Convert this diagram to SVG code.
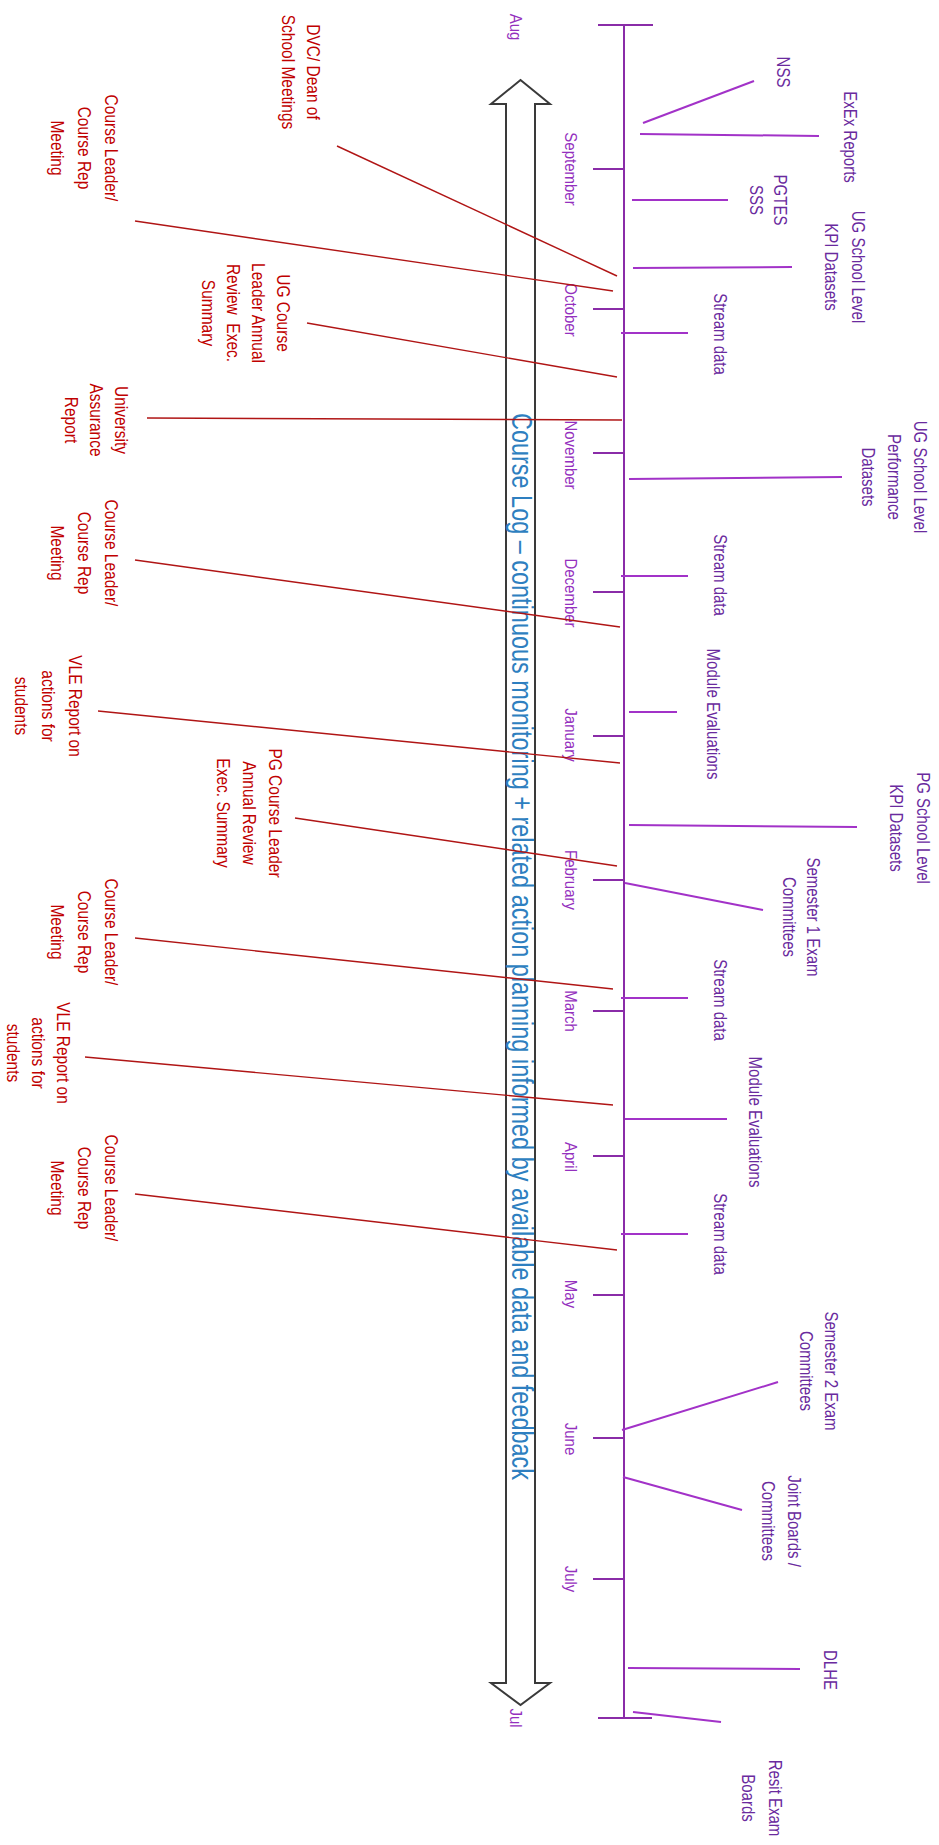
<svg xmlns="http://www.w3.org/2000/svg" width="939" height="1845" viewBox="0 0 939 1845">
<style>
 .red{font-family:"Liberation Sans",Arial,sans-serif;font-size:15.5px;fill:#C00000}
 .pur{font-family:"Liberation Sans",Arial,sans-serif;font-size:15px;fill:#6A2A9E}
 .mon{font-family:"Liberation Sans",Arial,sans-serif;font-size:15px;fill:#9430BE}
 .main{font-family:"Liberation Sans",Arial,sans-serif;font-size:24px;fill:#2E7FC0}
 .rl{stroke:#B01515;stroke-width:1.4;fill:none}
 .pl{stroke:#A232C8;stroke-width:2;fill:none}
 .ax{stroke:#8A2CA8;stroke-width:2;fill:none}
 .arrow{fill:#FFFFFF;stroke:#3A3A3A;stroke-width:2}
</style>
<rect width="939" height="1845" fill="#FFFFFF"/>

<g id="course-log-arrow">
 <path class="arrow" d="M520.5,80 L550,104 L535,104 L535,1683 L550,1683 L520.5,1705 L491,1683 L506,1683 L506,104 L491,104 Z"/>
 <text class="main" transform="translate(512,946.5) rotate(90) scale(1,1.2)" text-anchor="middle" textLength="1067" lengthAdjust="spacingAndGlyphs">Course Log – continuous monitoring + related action planning informed by available data and feedback</text>
</g>

<g id="timeline">
 <line class="ax" x1="624" y1="25" x2="624" y2="1718"/>
 <line class="ax" x1="598" y1="25" x2="653" y2="25"/>
 <line class="ax" x1="598" y1="1718" x2="652" y2="1718"/>
 <line class="ax" x1="593" y1="169" x2="624" y2="169"/>
 <line class="ax" x1="593" y1="309" x2="624" y2="309"/>
 <line class="ax" x1="593" y1="453" x2="624" y2="453"/>
 <line class="ax" x1="593" y1="592" x2="624" y2="592"/>
 <line class="ax" x1="593" y1="736" x2="624" y2="736"/>
 <line class="ax" x1="593" y1="880" x2="624" y2="880"/>
 <line class="ax" x1="593" y1="1011" x2="624" y2="1011"/>
 <line class="ax" x1="593" y1="1156" x2="624" y2="1156"/>
 <line class="ax" x1="593" y1="1295" x2="624" y2="1295"/>
 <line class="ax" x1="593" y1="1438" x2="624" y2="1438"/>
 <line class="ax" x1="593" y1="1579" x2="624" y2="1579"/>
</g>

<g id="months" class="mon" text-anchor="middle">
 <text transform="translate(510,27) rotate(90) scale(1,1.15)">Aug</text>
 <text transform="translate(565,169) rotate(90) scale(1,1.15)">September</text>
 <text transform="translate(565,310) rotate(90) scale(1,1.15)">October</text>
 <text transform="translate(565,455) rotate(90) scale(1,1.15)">November</text>
 <text transform="translate(565,593) rotate(90) scale(1,1.15)">December</text>
 <text transform="translate(565,735) rotate(90) scale(1,1.15)">January</text>
 <text transform="translate(565,880) rotate(90) scale(1,1.15)">February</text>
 <text transform="translate(565,1011) rotate(90) scale(1,1.15)">March</text>
 <text transform="translate(565,1157) rotate(90) scale(1,1.15)">April</text>
 <text transform="translate(565,1294) rotate(90) scale(1,1.15)">May</text>
 <text transform="translate(565,1439) rotate(90) scale(1,1.15)">June</text>
 <text transform="translate(565,1579) rotate(90) scale(1,1.15)">July</text>
 <text transform="translate(510,1718) rotate(90) scale(1,1.15)">Jul</text>
</g>

<g id="connectors">
 <line class="rl" x1="337" y1="146" x2="617" y2="276"/>
 <line class="rl" x1="135" y1="221" x2="613" y2="291"/>
 <line class="rl" x1="307" y1="323" x2="617" y2="377"/>
 <line class="rl" x1="147" y1="418" x2="622" y2="420"/>
 <line class="rl" x1="135" y1="560" x2="620" y2="627"/>
 <line class="rl" x1="98" y1="711" x2="620" y2="763"/>
 <line class="rl" x1="295" y1="818" x2="617" y2="866"/>
 <line class="rl" x1="135" y1="938" x2="613" y2="989"/>
 <line class="rl" x1="85" y1="1057" x2="613" y2="1105"/>
 <line class="rl" x1="135" y1="1194" x2="617" y2="1250"/>
 <line class="pl" x1="643" y1="123" x2="754" y2="81"/>
 <line class="pl" x1="640" y1="134" x2="819" y2="136"/>
 <line class="pl" x1="632" y1="200" x2="728" y2="200"/>
 <line class="pl" x1="633" y1="268" x2="792" y2="267"/>
 <line class="pl" x1="621" y1="333" x2="688" y2="333"/>
 <line class="pl" x1="629" y1="479" x2="842" y2="477"/>
 <line class="pl" x1="621" y1="576" x2="688" y2="576"/>
 <line class="pl" x1="629" y1="712" x2="677" y2="712"/>
 <line class="pl" x1="629" y1="825" x2="857" y2="827"/>
 <line class="pl" x1="625" y1="883" x2="763" y2="910"/>
 <line class="pl" x1="621" y1="998" x2="688" y2="998"/>
 <line class="pl" x1="625" y1="1119" x2="727" y2="1119"/>
 <line class="pl" x1="621" y1="1234" x2="688" y2="1234"/>
 <line class="pl" x1="622" y1="1430" x2="778" y2="1382"/>
 <line class="pl" x1="623" y1="1477" x2="742" y2="1510"/>
 <line class="pl" x1="628" y1="1668" x2="800" y2="1669"/>
 <line class="pl" x1="633" y1="1712" x2="721" y2="1722"/>
</g>

<g id="dvc-dean"><text class="red" text-anchor="middle" transform="translate(307,72) rotate(90) scale(1,1.2)"><tspan x="0" y="0">DVC/ Dean of</tspan><tspan x="0" y="20.8">School Meetings</tspan></text></g>
<g id="cl-meeting-1"><text class="red" text-anchor="middle" transform="translate(105,148) rotate(90) scale(1,1.2)"><tspan x="0" y="0">Course Leader/</tspan><tspan x="0" y="22.5">Course Rep</tspan><tspan x="0" y="45">Meeting</tspan></text></g>
<g id="ug-annual-review"><text class="red" text-anchor="middle" transform="translate(277,313) rotate(90) scale(1,1.2)" xml:space="preserve"><tspan x="0" y="0">UG Course</tspan><tspan x="0" y="20.8">Leader Annual</tspan><tspan x="0" y="41.6">Review  Exec.</tspan><tspan x="0" y="62.4">Summary</tspan></text></g>
<g id="uni-assurance"><text class="red" text-anchor="middle" transform="translate(115,420) rotate(90) scale(1,1.2)"><tspan x="0" y="0">University</tspan><tspan x="0" y="20.8">Assurance</tspan><tspan x="0" y="41.6">Report</tspan></text></g>
<g id="cl-meeting-2"><text class="red" text-anchor="middle" transform="translate(105,553) rotate(90) scale(1,1.2)"><tspan x="0" y="0">Course Leader/</tspan><tspan x="0" y="22.5">Course Rep</tspan><tspan x="0" y="45">Meeting</tspan></text></g>
<g id="vle-report-1"><text class="red" text-anchor="middle" transform="translate(69,706) rotate(90) scale(1,1.2)"><tspan x="0" y="0">VLE Report on</tspan><tspan x="0" y="22.5">actions for</tspan><tspan x="0" y="45">students</tspan></text></g>
<g id="pg-annual-review"><text class="red" text-anchor="middle" transform="translate(269,813) rotate(90) scale(1,1.2)"><tspan x="0" y="0">PG Course Leader</tspan><tspan x="0" y="21.7">Annual Review</tspan><tspan x="0" y="43.4">Exec. Summary</tspan></text></g>
<g id="cl-meeting-3"><text class="red" text-anchor="middle" transform="translate(105,932) rotate(90) scale(1,1.2)"><tspan x="0" y="0">Course Leader/</tspan><tspan x="0" y="22.5">Course Rep</tspan><tspan x="0" y="45">Meeting</tspan></text></g>
<g id="vle-report-2"><text class="red" text-anchor="middle" transform="translate(57,1053) rotate(90) scale(1,1.2)"><tspan x="0" y="0">VLE Report on</tspan><tspan x="0" y="20.8">actions for</tspan><tspan x="0" y="41.6">students</tspan></text></g>
<g id="cl-meeting-4"><text class="red" text-anchor="middle" transform="translate(105,1188) rotate(90) scale(1,1.2)"><tspan x="0" y="0">Course Leader/</tspan><tspan x="0" y="22.5">Course Rep</tspan><tspan x="0" y="45">Meeting</tspan></text></g>

<g id="nss"><text class="pur" text-anchor="middle" transform="translate(777,72) rotate(90) scale(1,1.25)">NSS</text></g>
<g id="exex"><text class="pur" text-anchor="middle" transform="translate(844,137) rotate(90) scale(1,1.25)">ExEx Reports</text></g>
<g id="pgtes-sss"><text class="pur" text-anchor="middle" transform="translate(774,200) rotate(90) scale(1,1.25)"><tspan x="0" y="0">PGTES</tspan><tspan x="0" y="19.2">SSS</tspan></text></g>
<g id="ug-kpi"><text class="pur" text-anchor="middle" transform="translate(852,267) rotate(90) scale(1,1.25)"><tspan x="0" y="0">UG School Level</tspan><tspan x="0" y="21.6">KPI Datasets</tspan></text></g>
<g id="stream-1"><text class="pur" text-anchor="middle" transform="translate(714,334) rotate(90) scale(1,1.25)">Stream data</text></g>
<g id="ug-performance"><text class="pur" text-anchor="middle" transform="translate(914,477) rotate(90) scale(1,1.25)"><tspan x="0" y="0">UG School Level</tspan><tspan x="0" y="20.8">Performance</tspan><tspan x="0" y="42">Datasets</tspan></text></g>
<g id="stream-2"><text class="pur" text-anchor="middle" transform="translate(714,575) rotate(90) scale(1,1.25)">Stream data</text></g>
<g id="module-eval-1"><text class="pur" text-anchor="middle" transform="translate(707,714) rotate(90) scale(1,1.25)">Module Evaluations</text></g>
<g id="pg-kpi"><text class="pur" text-anchor="middle" transform="translate(917,828) rotate(90) scale(1,1.25)"><tspan x="0" y="0">PG School Level</tspan><tspan x="0" y="21.6">KPI Datasets</tspan></text></g>
<g id="sem1-exam"><text class="pur" text-anchor="middle" transform="translate(807,917) rotate(90) scale(1,1.25)"><tspan x="0" y="0">Semester 1 Exam</tspan><tspan x="0" y="19.6">Committees</tspan></text></g>
<g id="stream-3"><text class="pur" text-anchor="middle" transform="translate(714,1000) rotate(90) scale(1,1.25)">Stream data</text></g>
<g id="module-eval-2"><text class="pur" text-anchor="middle" transform="translate(749,1122) rotate(90) scale(1,1.25)">Module Evaluations</text></g>
<g id="stream-4"><text class="pur" text-anchor="middle" transform="translate(714,1234) rotate(90) scale(1,1.25)">Stream data</text></g>
<g id="sem2-exam"><text class="pur" text-anchor="middle" transform="translate(825,1371) rotate(90) scale(1,1.25)"><tspan x="0" y="0">Semester 2 Exam</tspan><tspan x="0" y="20">Committees</tspan></text></g>
<g id="joint-boards"><text class="pur" text-anchor="middle" transform="translate(788,1521) rotate(90) scale(1,1.25)"><tspan x="0" y="0">Joint Boards /</tspan><tspan x="0" y="20.8">Committees</tspan></text></g>
<g id="dlhe"><text class="pur" text-anchor="middle" transform="translate(824,1670) rotate(90) scale(1,1.25)">DLHE</text></g>
<g id="resit-boards"><text class="pur" text-anchor="middle" transform="translate(769,1798) rotate(90) scale(1,1.25)"><tspan x="0" y="0">Resit Exam</tspan><tspan x="0" y="21.6">Boards</tspan></text></g>
</svg>
